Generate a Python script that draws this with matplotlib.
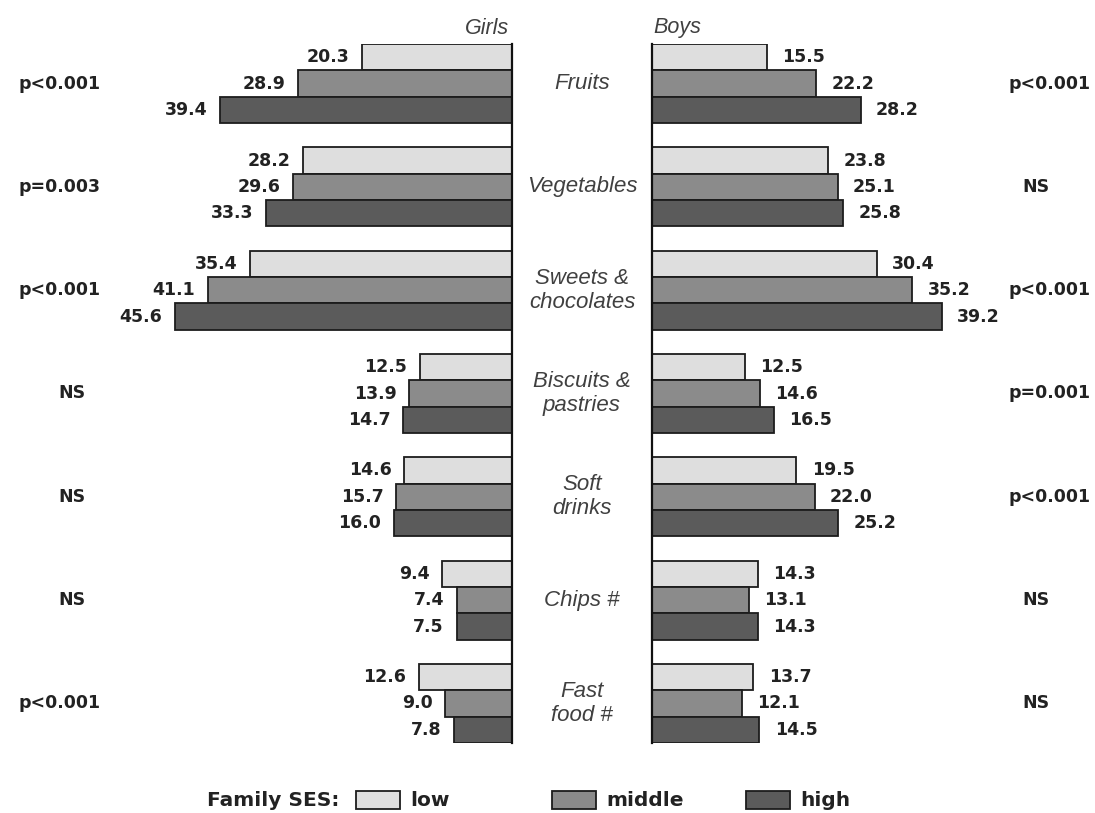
import matplotlib
matplotlib.use("Agg")
import matplotlib.pyplot as plt
from matplotlib.patches import Rectangle
import numpy as np

categories = ["Fruits", "Vegetables", "Sweets &\nchocolates", "Biscuits &\npastries",
              "Soft\ndrinks", "Chips #", "Fast\nfood #"]
ses_levels = ["low", "middle", "high"]

girls_low = [20.3, 28.2, 35.4, 12.5, 14.6, 9.4, 12.6]
girls_middle = [28.9, 29.6, 41.1, 13.9, 15.7, 7.4, 9.0]
girls_high = [39.4, 33.3, 45.6, 14.7, 16.0, 7.5, 7.8]

boys_low = [15.5, 23.8, 30.4, 12.5, 19.5, 14.3, 13.7]
boys_middle = [22.2, 25.1, 35.2, 14.6, 22.0, 13.1, 12.1]
boys_high = [28.2, 25.8, 39.2, 16.5, 25.2, 14.3, 14.5]

girls_p = ["p<0.001", "p=0.003", "p<0.001", "NS", "NS", "NS", "p<0.001"]
boys_p = ["p<0.001", "NS", "p<0.001", "p=0.001", "p<0.001", "NS", "NS"]

colors = ["#dedede", "#8b8b8b", "#5b5b5b"]
edge = "#1c1c1c"
text_col = "#222222"
cat_col = "#404040"

W, H = 1095, 813
fig = plt.figure(figsize=(W / 100, H / 100), dpi=100)


def fx(px):
    return px / W


def fy(py):
    return 1 - py / H


bar_h = 0.255
offsets = [-bar_h, 0.0, bar_h]
ylim = (len(categories) - 1 + 1.5 * bar_h, -1.5 * bar_h)

top_px, bot_px = 44, 743
ax_g = fig.add_axes([fx(142), fy(bot_px), fx(370), (bot_px - top_px) / H])
ax_b = fig.add_axes([fx(652), fy(bot_px), fx(370), (bot_px - top_px) / H])

y = np.arange(len(categories))
value_font = dict(family="DejaVu Sans", weight="bold", size=12.5, color=text_col)

for ax, series, side in [(ax_g, [girls_low, girls_middle, girls_high], "left"),
                         (ax_b, [boys_low, boys_middle, boys_high], "right")]:
    for k, vals in enumerate(series):
        ax.barh(y + offsets[k], vals, height=bar_h, color=colors[k],
                edgecolor=edge, linewidth=1.3, zorder=2)
        for yi, v in zip(y + offsets[k], vals):
            dx = -9 if side == "left" else 11
            ax.annotate(f"{v:.1f}", xy=(v, yi), xytext=(dx, 0),
                        textcoords="offset points",
                        ha="right" if side == "left" else "left",
                        va="center", **value_font)
    ax.set_ylim(*ylim)
    ax.set_xticks([])
    ax.set_yticks([])
    for s in ax.spines.values():
        s.set_visible(False)
    spine = ax.spines["right" if side == "left" else "left"]
    spine.set_visible(True)
    spine.set_linewidth(1.6)
    spine.set_color("#111111")
    ax.patch.set_alpha(0)

ax_g.set_xlim(50, 0)
ax_b.set_xlim(0, 50)

# category names between the two panels, aligned with each group
for yi, name in zip(y, categories):
    _, ypix = ax_g.transData.transform((0, yi))
    fig.text(fx(582), ypix / H, name, ha="center", va="center", style="italic",
             family="Liberation Sans", size=16, color=cat_col, linespacing=1.2)

# significance labels on the outer sides
for yi, pl, pr in zip(y, girls_p, boys_p):
    _, ypix = ax_g.transData.transform((0, yi))
    xl = 72 if pl == "NS" else 60
    xr = 1036 if pr == "NS" else 1050
    fig.text(fx(xl), ypix / H, pl, ha="center", va="center", **value_font)
    fig.text(fx(xr), ypix / H, pr, ha="center", va="center", **value_font)

fig.text(fx(509), fy(28), "Girls", ha="right", va="center", style="italic",
         family="Liberation Sans", size=15.5, color=cat_col)
fig.text(fx(653), fy(28), "Boys", ha="left", va="center", style="italic",
         family="Liberation Sans", size=15.5, color=cat_col)

# legend row
leg_font = dict(family="DejaVu Sans", weight="bold", size=14.5, color=text_col)
leg_y = 800
fig.text(fx(207), fy(leg_y), "Family SES:", ha="left", va="center", **leg_font)
box_x = [356, 552, 746]
for bx, lab, c in zip(box_x, ses_levels, colors):
    fig.patches.append(Rectangle((fx(bx), fy(leg_y + 9)), fx(44), 18 / H,
                                 transform=fig.transFigure, facecolor=c,
                                 edgecolor=edge, linewidth=1.3))
    fig.text(fx(bx + 54), fy(leg_y), lab, ha="left", va="center", **leg_font)

fig.savefig("out.png", dpi=100, facecolor="white")
